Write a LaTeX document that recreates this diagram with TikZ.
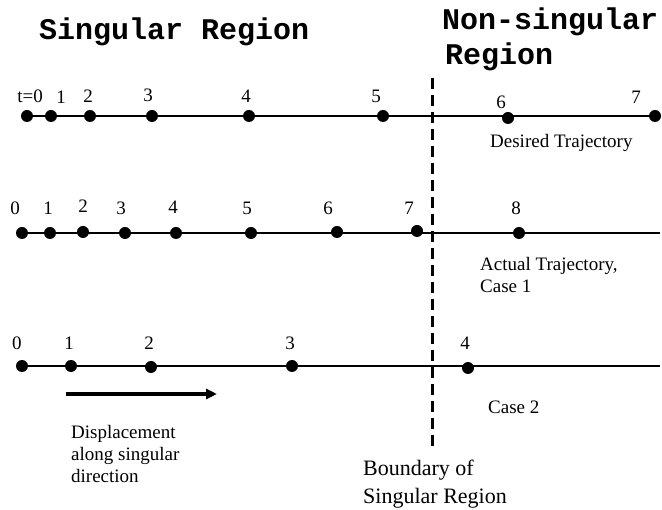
\documentclass[tikz,border=0pt]{standalone}
\usepackage{fontspec}
\setmainfont{Liberation Serif}
\newfontfamily\titleFont{Liberation Mono}
\usetikzlibrary{positioning,arrows.meta}
\tikzstyle{plane} = [x=1pt, y=-1pt]
\tikzstyle{dotStyle} = [circle, fill=black, inner sep=0pt, minimum size=12pt]
\tikzstyle{trajectoryLine} = [line width=2pt]
\tikzstyle{boundaryLine} = [line width=3pt, dash pattern=on 11pt off 6pt]
\tikzstyle{numberText} = [font=\fontsize{19}{21}\selectfont, inner sep=0pt]
\tikzstyle{noteText} = [font=\fontsize{19}{22}\selectfont, align=left, anchor=west, inner sep=0pt]
\tikzstyle{titleText} = [font=\titleFont\bfseries\fontsize{30}{35}\selectfont, anchor=west, inner sep=0pt]
\tikzstyle{displacementArrow} = [-{Triangle[length=11pt,width=10pt]}, line width=4pt]
% one row of trajectory points: prefix, list of x/y/labelx/labely/label
\newcommand{\trajectoryRow}[2]{
  \foreach \x/\y/\lx/\ly/\lab [count=\i from 0] in {#2} {
    \node [dotStyle] (#1\i) at (\x,\y) {};
    \node [numberText] (#1\i text) at (\lx,\ly) {\lab};
  }
}

\begin{document}
\begin{tikzpicture}[plane]
  \useasboundingbox (0,0) rectangle (662,510);

  \node [titleText] (singularTitle) at (39,32) {Singular Region};
  \node [titleText] (nonSingularTitle) at (442,22) {Non-singular};
  \node [titleText] (nonSingularRegion) at (445,57) {Region};

  % boundary
  \coordinate (boundaryTop) at (432,78);
  \coordinate (boundaryBottom) at (432,447);
  \draw [boundaryLine] (boundaryTop) -- (boundaryBottom);

  % desired trajectory
  \trajectoryRow{d}{27/116/30/96/t=0, 51/116/61/97/1, 90/116/88/96/2, 152/116/148/95/3,
    249/116/246/96/4, 383/116/376/96/5, 508/118/501/102/6, 655/116/636/97/7}
  \draw [trajectoryLine] (d0.center) -- (d7.center);
  \node [noteText] (desiredText) at (490,143) {Desired Trajectory};

  % actual trajectory, case 1
  \trajectoryRow{a}{22/233/15/208/0, 50/233/48/208/1, 83/232/83/206/2, 125/233/121/208/3,
    176/233/173/207/4, 251/233/247/208/5, 337/232/328/208/6, 417/231/409/208/7, 519/233/516/208/8}
  \coordinate (aEnd) at (660,233);
  \draw [trajectoryLine] (a0.center) -- (aEnd);
  \node [noteText] (actualText) at (480,275) {Actual Trajectory,\\Case 1};

  % case 2
  \trajectoryRow{c}{22/366/17/343/0, 71/366/69/343/1, 151/367/149/343/2, 292/366/290/343/3,
    468/368/465/343/4}
  \coordinate (cEnd) at (660,366);
  \draw [trajectoryLine] (c0.center) -- (cEnd);
  \node [noteText] (caseText) at (488,407) {Case 2};

  % displacement
  \coordinate (arrowStart) at (66,394);
  \coordinate (arrowEnd) at (217,394);
  \draw [displacementArrow] (arrowStart) -- (arrowEnd);
  \node [noteText] (displacementText) at (71,454) {Displacement\\along singular\\direction};

  \node [noteText, font=\fontsize{22}{28}\selectfont] (boundaryText) at (363,484) {Boundary of\\Singular Region};
\end{tikzpicture}
\end{document}
